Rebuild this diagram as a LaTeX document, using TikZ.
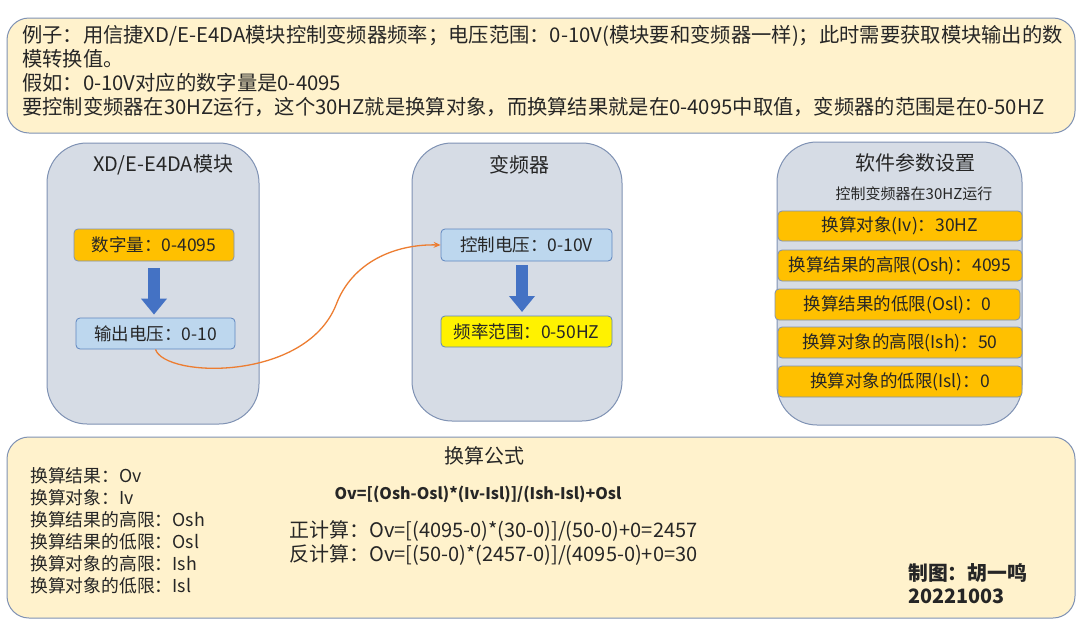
\documentclass[tikz,border=0pt]{standalone}
\usepackage{fontspec}
\setmainfont{Noto Sans CJK SC}
\usetikzlibrary{arrows.meta}
\definecolor{paleyellow}{HTML}{FFF2CC}
\definecolor{grayblue}{HTML}{D6DCE5}
\definecolor{edgeblue}{HTML}{7F92B4}
\definecolor{gold}{HTML}{FFC000}
\definecolor{lightblue}{HTML}{BDD7EE}
\definecolor{lbedge}{HTML}{5F86BF}
\definecolor{arrowblue}{HTML}{4472C4}
\definecolor{curveorange}{HTML}{ED7D31}
\definecolor{txt}{HTML}{262626}
\tikzset{
  notebox/.style={draw=edgeblue, line width=1pt, fill=paleyellow, rounded corners=22pt, inner sep=0pt},
  panel/.style={draw=edgeblue, line width=1pt, fill=grayblue, rounded corners=40pt, inner sep=0pt},
  ptitle/.style={font=\fontsize{20}{24}\selectfont, text=txt, inner sep=0pt},
  field/.style={draw=edgeblue, line width=0.8pt, rounded corners=4pt, inner sep=0pt, text=txt,
    font=\fontsize{17.5}{20}\selectfont},
  goldfield/.style={field, fill=gold},
  bluefield/.style={field, fill=lightblue, draw=lbedge},
  yellowfield/.style={field, fill=yellow, draw=lbedge},
  blockarrow/.style={draw=arrowblue, line width=12pt,
    -{Triangle[length=16pt, width=25pt]}},
  wire/.style={draw=curveorange, line width=1.3pt, -{Stealth[length=7pt, width=6pt]}},
  plain/.style={inner sep=0pt, text=txt, align=left}
}
\begin{document}
\begin{tikzpicture}[x=1pt,y=-1pt]
\useasboundingbox[fill=white] (0,0) rectangle (1080,635);

% top note
\node[notebox, minimum width=1068pt, minimum height=115pt] (top) at (541,75.5) {};
\node[plain, anchor=north west, font=\fontsize{20.3}{24}\selectfont] (toptext) at (22,25.5)
 {例子：用信捷XD/E-E4DA模块控制变频器频率；电压范围：0-10V(模块要和变频器一样)；此时需要获取模块输出的数\\
  模转换值。\\
  假如：0-10V对应的数字量是0-4095\\
  要控制变频器在30HZ运行，这个30HZ就是换算对象，而换算结果就是在0-4095中取值，变频器的范围是在0-50HZ};

% panel A
\node[panel, minimum width=212pt, minimum height=281pt] (pa) at (153,283.5) {};
\node[ptitle] (pat) at (163,165) {XD/E-E4DA模块};
\node[goldfield, minimum width=160pt, minimum height=32pt] (dig) at (154,245) {数字量：0-4095};
\node[bluefield, minimum width=159pt, minimum height=31pt] (out) at (155.5,333.5) {输出电压：0-10};
\draw[blockarrow, shorten <=7pt, shorten >=3pt] (dig.south) -- (dig.south |- out.north);

% panel B
\node[panel, minimum width=210pt, minimum height=278pt] (pb) at (517,282) {};
\node[ptitle] (pbt) at (519,165) {变频器};
\node[bluefield, minimum width=171pt, minimum height=32pt] (ctl) at (526.5,245) {控制电压：0-10V};
\node[yellowfield, minimum width=171pt, minimum height=31pt] (freq) at (526.5,331.5) {频率范围：0-50HZ};
\draw[blockarrow, shorten <=4pt, shorten >=4pt] (522,261) -- (522,316);

% panel C
\node[panel, minimum width=245pt, minimum height=283pt] (pc) at (899.5,283.5) {};
\node[ptitle] (pct) at (915,163) {软件参数设置};
\node[plain, font=\fontsize{15}{18}\selectfont] (pcs) at (914,194) {控制变频器在30HZ运行};
\node[goldfield, minimum width=244pt, minimum height=30pt] (f1) at (900,226) {换算对象(Iv)：30HZ};
\node[goldfield, minimum width=244pt, minimum height=31pt] (f2) at (900,265.5) {换算结果的高限(Osh)：4095};
\node[goldfield, minimum width=245pt, minimum height=31pt] (f3) at (897.5,304.5) {换算结果的低限(Osl)：0};
\node[goldfield, minimum width=244pt, minimum height=31pt] (f4) at (900,342.5) {换算对象的高限(Ish)：50};
\node[goldfield, minimum width=244pt, minimum height=31pt] (f5) at (900,381.5) {换算对象的低限(Isl)：0};

% connector
\draw[wire] (out.south) .. controls (165,378) and (305,382) .. (336,305)
  .. controls (352,262) and (395,244) .. (ctl.west);

% bottom note
\node[notebox, minimum width=1068pt, minimum height=181pt] (bot) at (541,527.5) {};
\node[ptitle] (bt) at (484,456) {换算公式};
\node[plain, anchor=north west, font=\fontsize{17.8}{22}\selectfont] (vars) at (30,467)
 {换算结果：Ov\\
  换算对象：Iv\\
  换算结果的高限：Osh\\
  换算结果的低限：Osl\\
  换算对象的高限：Ish\\
  换算对象的低限：Isl};
\node[plain, font=\fontsize{16}{19}\selectfont\bfseries] (formula) at (478,494)
 {Ov=[(Osh-Osl)*(Iv-Isl)]/(Ish-Isl)+Osl};
\node[plain, anchor=north west, font=\fontsize{20}{24}\selectfont] (calc) at (289,520)
 {正计算：Ov=[(4095-0)*(30-0)]/(50-0)+0=2457\\
  反计算：Ov=[(50-0)*(2457-0)]/(4095-0)+0=30};
\node[plain, anchor=north west, font=\fontsize{19.8}{23}\selectfont\bfseries] (author) at (908,563)
 {制图：胡一鸣\\20221003};
\end{tikzpicture}
\end{document}
